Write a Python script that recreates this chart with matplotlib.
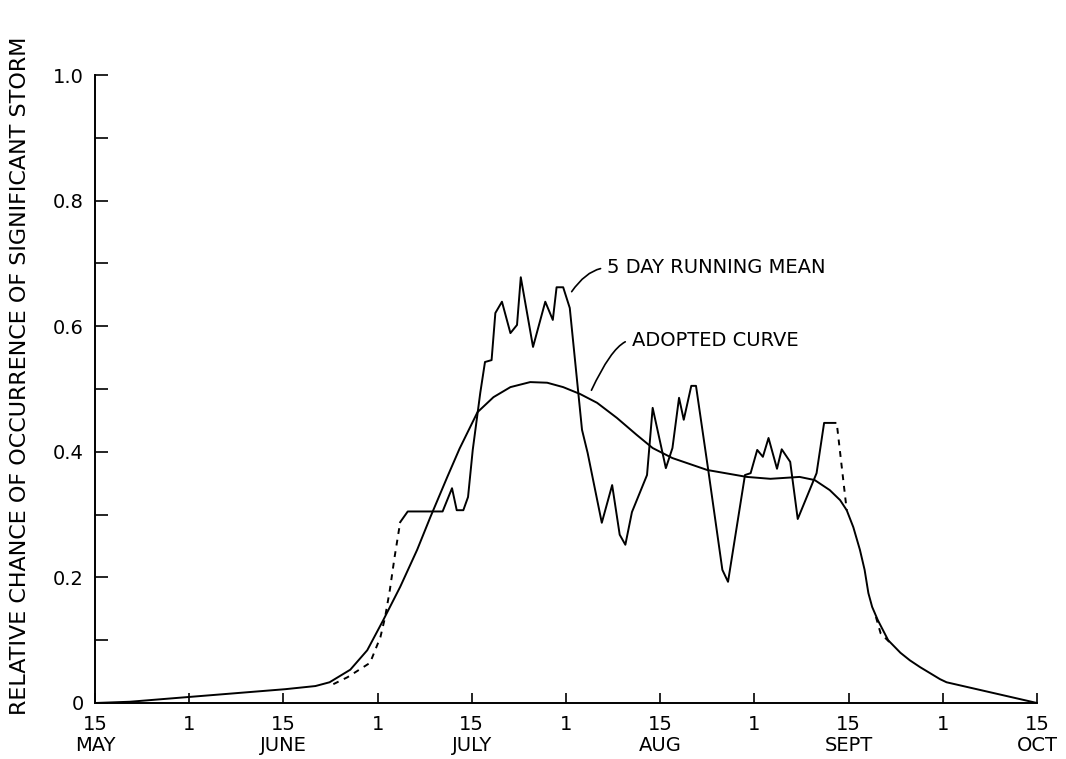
import matplotlib.pyplot as plt
from matplotlib.ticker import MultipleLocator

# x in half-month steps: 0 = 15 May, 1 = 1 June, ... 10 = 15 Oct
tick_pos = [0, 1, 2, 3, 4, 5, 6, 7, 8, 9, 10]
day_labels = ['15', '1', '15', '1', '15', '1', '15', '1', '15', '1', '15']
month_pos = [0, 2, 4, 6, 8, 10]
month_labels = ['MAY', 'JUNE', 'JULY', 'AUG', 'SEPT', 'OCT']

# adopted (smoothed) curve
adopt_x = [0.00, 0.37, 1.03, 2.02, 2.34, 2.49, 2.71, 2.89, 3.06, 3.24, 3.42, 3.56,
           3.74, 3.87, 4.06, 4.23, 4.41, 4.62, 4.80, 4.97, 5.15, 5.33, 5.54, 5.75,
           5.92, 6.13, 6.50, 6.92, 7.17, 7.48, 7.64, 7.80, 7.91, 7.98, 8.05, 8.12,
           8.17, 8.21, 8.25, 8.31, 8.42, 8.55, 8.65, 8.76, 8.97, 9.04, 10.00]
adopt_y = [0.000, 0.002, 0.010, 0.022, 0.027, 0.033, 0.053, 0.084, 0.132, 0.185,
           0.244, 0.296, 0.360, 0.405, 0.463, 0.487, 0.503, 0.511, 0.510, 0.503,
           0.492, 0.478, 0.454, 0.427, 0.406, 0.390, 0.371, 0.360, 0.357, 0.360,
           0.355, 0.339, 0.323, 0.307, 0.280, 0.244, 0.212, 0.175, 0.153, 0.132,
           0.100, 0.080, 0.068, 0.057, 0.038, 0.033, 0.000]

# 5 day running mean (solid part)
mean_x = [3.24, 3.32, 3.69, 3.79, 3.84, 3.91, 3.96, 4.01, 4.09, 4.14, 4.21, 4.25,
          4.32, 4.41, 4.48, 4.52, 4.65, 4.78, 4.86, 4.90, 4.97, 5.04, 5.17, 5.23,
          5.38, 5.49, 5.57, 5.63, 5.70, 5.86, 5.92, 6.06, 6.13, 6.20, 6.25, 6.33,
          6.38, 6.51, 6.66, 6.72, 6.90, 6.96, 7.03, 7.09, 7.15, 7.24, 7.29, 7.38,
          7.46, 7.66, 7.74, 7.86]
mean_y = [0.288, 0.305, 0.305, 0.342, 0.307, 0.307, 0.328, 0.403, 0.494, 0.543,
          0.546, 0.621, 0.639, 0.589, 0.602, 0.678, 0.567, 0.639, 0.610, 0.662,
          0.662, 0.629, 0.435, 0.398, 0.287, 0.347, 0.268, 0.252, 0.304, 0.363,
          0.470, 0.374, 0.406, 0.486, 0.451, 0.505, 0.505, 0.371, 0.212, 0.193,
          0.363, 0.366, 0.403, 0.392, 0.422, 0.373, 0.404, 0.384, 0.293, 0.366,
          0.446, 0.446]

# dashed pieces of the running mean
dash1_x = [2.53, 2.68, 2.92, 3.03, 3.08, 3.13, 3.18, 3.24]
dash1_y = [0.030, 0.041, 0.064, 0.105, 0.137, 0.180, 0.232, 0.288]
dash2_x = [7.88, 7.98]
dash2_y = [0.438, 0.307]
dash3_x = [8.29, 8.34, 8.44]
dash3_y = [0.137, 0.111, 0.096]

plt.rcParams['font.family'] = 'DejaVu Sans'

fig = plt.figure(figsize=(10.66, 7.59), dpi=100)
ax = fig.add_axes([95/1066, 56/759, 942/1066, 628/759])

lw = 1.4
ax.plot(adopt_x, adopt_y, color='black', lw=lw)
ax.plot(mean_x, mean_y, color='black', lw=lw)
for dx, dy in [(dash1_x, dash1_y), (dash2_x, dash2_y), (dash3_x, dash3_y)]:
    ax.plot(dx, dy, color='black', lw=lw, linestyle=(0, (3, 3)))

ax.set_xlim(0, 10)
ax.set_ylim(0, 1.0)
ax.spines['top'].set_visible(False)
ax.spines['right'].set_visible(False)
for s in ['left', 'bottom']:
    ax.spines[s].set_linewidth(1.4)

ax.set_xticks(tick_pos, day_labels)
ax.yaxis.set_minor_locator(MultipleLocator(0.1))
ax.set_yticks([0, 0.2, 0.4, 0.6, 0.8, 1.0], ['0', '0.2', '0.4', '0.6', '0.8', '1.0'])
ax.tick_params(axis='x', direction='in', length=7, width=1.2, pad=9, labelsize=14)
ax.tick_params(axis='y', which='both', direction='in', length=9, width=1.2, pad=8, labelsize=14)

trans = ax.get_xaxis_transform()
for mx, mlab in zip(month_pos, month_labels):
    ax.text(mx, -0.068, mlab, transform=trans, ha='center', va='center',
            fontsize=14, clip_on=False)

fig.text(20/1066, 0.505, 'RELATIVE CHANCE OF OCCURRENCE OF SIGNIFICANT STORM',
         rotation=90, ha='center', va='center', fontsize=16)

ax.annotate('5 DAY RUNNING MEAN', xy=(5.06, 0.655), xytext=(5.44, 0.693),
            ha='left', va='center', fontsize=14,
            arrowprops=dict(arrowstyle='-', color='black', lw=1.2, relpos=(0, 0.5),
                            shrinkA=3, shrinkB=0,
                            connectionstyle='angle3,angleA=0,angleB=55'))
ax.annotate('ADOPTED CURVE', xy=(5.27, 0.498), xytext=(5.70, 0.578),
            ha='left', va='center', fontsize=14,
            arrowprops=dict(arrowstyle='-', color='black', lw=1.2, relpos=(0, 0.5),
                            shrinkA=3, shrinkB=0,
                            connectionstyle='angle3,angleA=0,angleB=65'))

plt.savefig('out.png', dpi=100)
